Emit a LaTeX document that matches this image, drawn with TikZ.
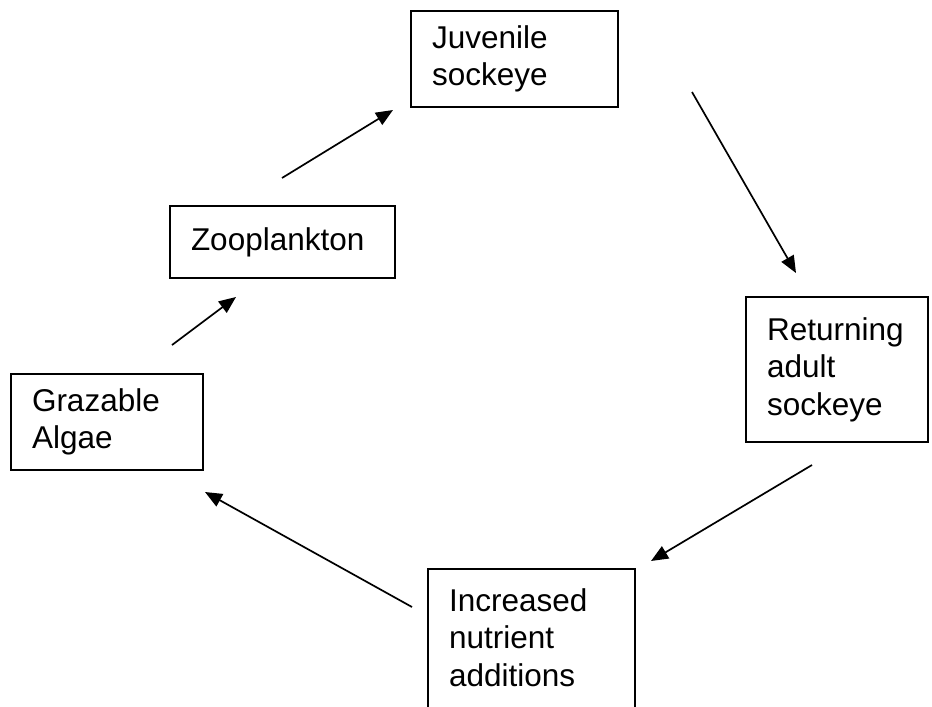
\documentclass[tikz,border=0pt]{standalone}
\usepackage{fontspec}
\setmainfont{Liberation Sans}
\usetikzlibrary{arrows.meta}

\begin{document}
\begin{tikzpicture}[x=1pt, y=-1pt,
    stage/.style={draw, line width=2.4pt, rectangle, align=left,
        inner xsep=21pt, inner ysep=0pt, font=\fontsize{31.5}{37.5}\selectfont},
    flow/.style={line width=1.7pt, -{Triangle[length=17pt, width=14pt]}}]
    \useasboundingbox (0,0) rectangle (932,707);

    % Stages of the cycle
    \node[stage, minimum width=207, minimum height=96, text width=165] (juvenile) at (514.5,59) {Juvenile\\sockeye};
    \node[stage, minimum width=225, minimum height=72, text width=183] (zoo) at (282.5,242) {Zooplankton};
    \node[stage, minimum width=192, minimum height=96, text width=150] (algae) at (107,422) {Grazable\\Algae};
    \node[stage, minimum width=182, minimum height=145, text width=140] (adult) at (837,369.5) {Returning\\adult\\sockeye};
    \node[stage, anchor=north, minimum width=207, text width=165, inner ysep=19pt, text depth=110pt] (nutrient) at (531.5,568) {Increased\\nutrient\\additions};

    % Arrow ends
    \coordinate (zoo out) at (282,178);
    \coordinate (juvenile in) at (393,110);
    \coordinate (juvenile out) at (692,92);
    \coordinate (adult in) at (796,273);
    \coordinate (adult out) at (812,465);
    \coordinate (nutrient in) at (651,561);
    \coordinate (nutrient out) at (412,607);
    \coordinate (algae in) at (205,492);
    \coordinate (algae out) at (172,345);
    \coordinate (zoo in) at (236,297);

    % Arrows round the cycle
    \draw[flow] (zoo out) -- (juvenile in);
    \draw[flow] (juvenile out) -- (adult in);
    \draw[flow] (adult out) -- (nutrient in);
    \draw[flow] (nutrient out) -- (algae in);
    \draw[flow] (algae out) -- (zoo in);
\end{tikzpicture}
\end{document}
